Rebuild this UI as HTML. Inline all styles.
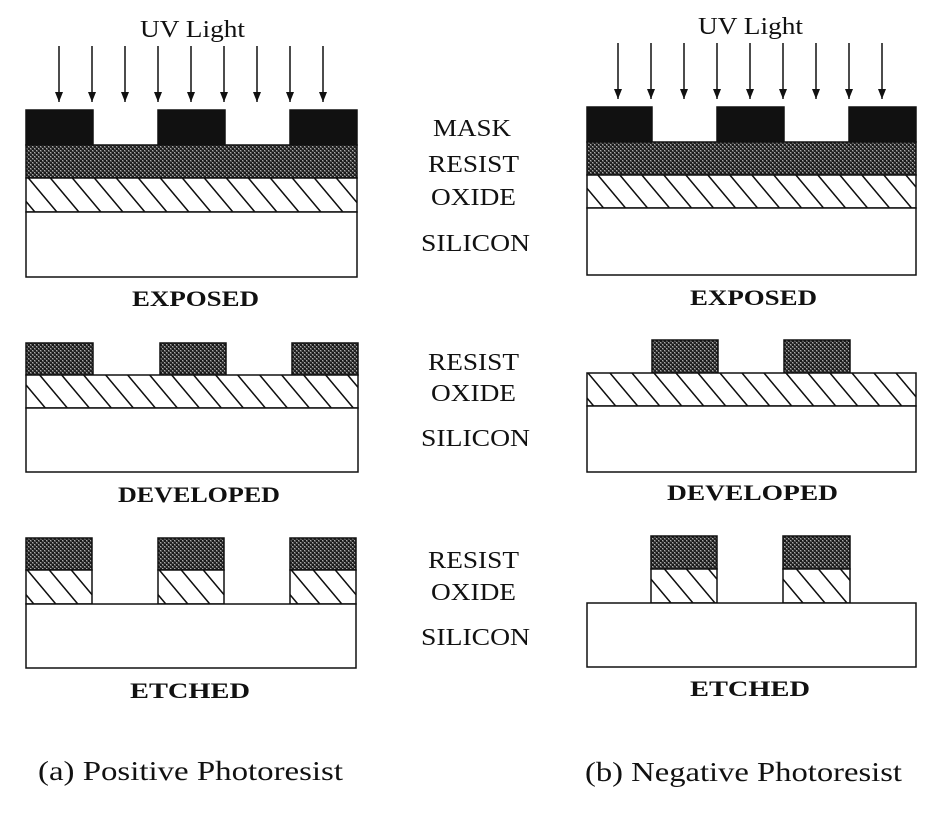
<!DOCTYPE html>
<html><head><meta charset="utf-8"><style>
html,body{margin:0;padding:0;background:#fff;}
svg{display:block;}
text{font-family:"Liberation Serif",serif;fill:#111;}
.lbl{font-size:24px;}
.stage{font-size:22px;font-weight:bold;}
.cap{font-size:27px;}
</style></head><body>
<svg width="940" height="820" viewBox="0 0 940 820">
<defs>
<pattern id="resist" width="4" height="4" patternUnits="userSpaceOnUse">
<rect width="4" height="4" fill="#555"/>
<rect width="2" height="2" fill="#1a1a1a"/>
<rect x="2" y="2" width="2" height="2" fill="#222"/>
<rect x="2" y="0" width="1" height="1" fill="#aaa"/>
<rect x="0" y="2" width="1" height="1" fill="#aaa"/>
</pattern>
<pattern id="oxide" width="22" height="34" patternUnits="userSpaceOnUse" patternTransform="skewX(40)">
<rect width="22" height="34" fill="#fff"/>
<line x1="11" y1="0" x2="11" y2="34" stroke="#111" stroke-width="2"/>
</pattern>
<marker id="ah" markerWidth="10" markerHeight="8" refX="10" refY="4" orient="auto" markerUnits="userSpaceOnUse">
<path d="M0,0 L10,4 L0,8 Z" fill="#111"/>
</marker>
</defs>
<g id="root" stroke="#111" stroke-width="1.5"></g>
</svg>
<script>
const NS='http://www.w3.org/2000/svg';
const root=document.getElementById('root');
function el(tag,attrs,name){const e=document.createElementNS(NS,tag);for(const k in attrs)e.setAttribute(k,attrs[k]);


root.appendChild(e);return e;}
function rect(x1,y1,x2,y2,fill,name){return el('rect',{x:x1,y:y1,width:x2-x1,height:y2-y1,fill:fill},name);}
function txt(x1,x2,y,s,cls,name){const t=el('text',{x:x1,y:y,class:cls,'text-anchor':'start',stroke:'none',textLength:x2-x1,lengthAdjust:'spacingAndGlyphs'},name);t.textContent=s;return t;}
function arrows(xs,y1,y2,prefix){xs.forEach((x,i)=>el('line',{x1:x,y1:y1,x2:x,y2:y2,'marker-end':'url(#ah)'},prefix+'-arrow-'+i));}

// ---- Left (positive) ----
txt(140,245,37,'UV Light','lbl','uv-light-label-left');
arrows([59,92,125,158,191,224,257,290,323],46,102,'uv-left');
[[26,93],[158,225],[290,357]].forEach((b,i)=>rect(b[0],110,b[1],145,'#111','mask-block-left-'+i));
rect(26,145,357,178,'url(#resist)','resist-layer-left');
rect(26,178,357,212,'url(#oxide)','oxide-layer-left');
rect(26,212,357,277,'#fff','silicon-left-exposed');
txt(132,259,306,'EXPOSED','stage','exposed-label-left');

[[26,93],[160,226],[292,358]].forEach((b,i)=>rect(b[0],343,b[1],375,'url(#resist)','resist-block-developed-left-'+i));
rect(26,375,358,408,'url(#oxide)','oxide-developed-left');
rect(26,408,358,472,'#fff','silicon-developed-left');
txt(118,280,502,'DEVELOPED','stage','developed-label-left');

[[26,92],[158,224],[290,356]].forEach((b,i)=>{rect(b[0],538,b[1],570,'url(#resist)','resist-block-etched-left-'+i);rect(b[0],570,b[1],604,'url(#oxide)','oxide-block-etched-left-'+i);});
rect(26,604,356,668,'#fff','silicon-etched-left');
txt(130,250,698,'ETCHED','stage','etched-label-left');
txt(38,343,780,'(a) Positive Photoresist','cap','caption-positive');

// ---- Right (negative) ----
txt(698,803,34,'UV Light','lbl','uv-light-label-right');
arrows([618,651,684,717,750,783,816,849,882],43,99,'uv-right');
[[587,652],[717,784],[849,916]].forEach((b,i)=>rect(b[0],107,b[1],142,'#111','mask-block-right-'+i));
rect(587,142,916,175,'url(#resist)','resist-layer-right');
rect(587,175,916,208,'url(#oxide)','oxide-layer-right');
rect(587,208,916,275,'#fff','silicon-right-exposed');
txt(690,817,305,'EXPOSED','stage','exposed-label-right');

[[652,718],[784,850]].forEach((b,i)=>rect(b[0],340,b[1],373,'url(#resist)','resist-block-developed-right-'+i));
rect(587,373,916,406,'url(#oxide)','oxide-developed-right');
rect(587,406,916,472,'#fff','silicon-developed-right');
txt(667,838,500,'DEVELOPED','stage','developed-label-right');

[[651,717],[783,850]].forEach((b,i)=>{rect(b[0],536,b[1],569,'url(#resist)','resist-block-etched-right-'+i);rect(b[0],569,b[1],603,'url(#oxide)','oxide-block-etched-right-'+i);});
rect(587,603,916,667,'#fff','silicon-etched-right');
txt(690,810,696,'ETCHED','stage','etched-label-right');
txt(585,902,781,'(b) Negative Photoresist','cap','caption-negative');

// ---- Middle labels ----
txt(433,511,136,'MASK','lbl','mask-label');
txt(428,519,172,'RESIST','lbl','resist-label-1');
txt(431,516,205,'OXIDE','lbl','oxide-label-1');
txt(421,530,251,'SILICON','lbl','silicon-label-1');
txt(428,519,370,'RESIST','lbl','resist-label-2');
txt(431,516,401,'OXIDE','lbl','oxide-label-2');
txt(421,530,446,'SILICON','lbl','silicon-label-2');
txt(428,519,568,'RESIST','lbl','resist-label-3');
txt(431,516,600,'OXIDE','lbl','oxide-label-3');
txt(421,530,645,'SILICON','lbl','silicon-label-3');
</script>
</body></html>
